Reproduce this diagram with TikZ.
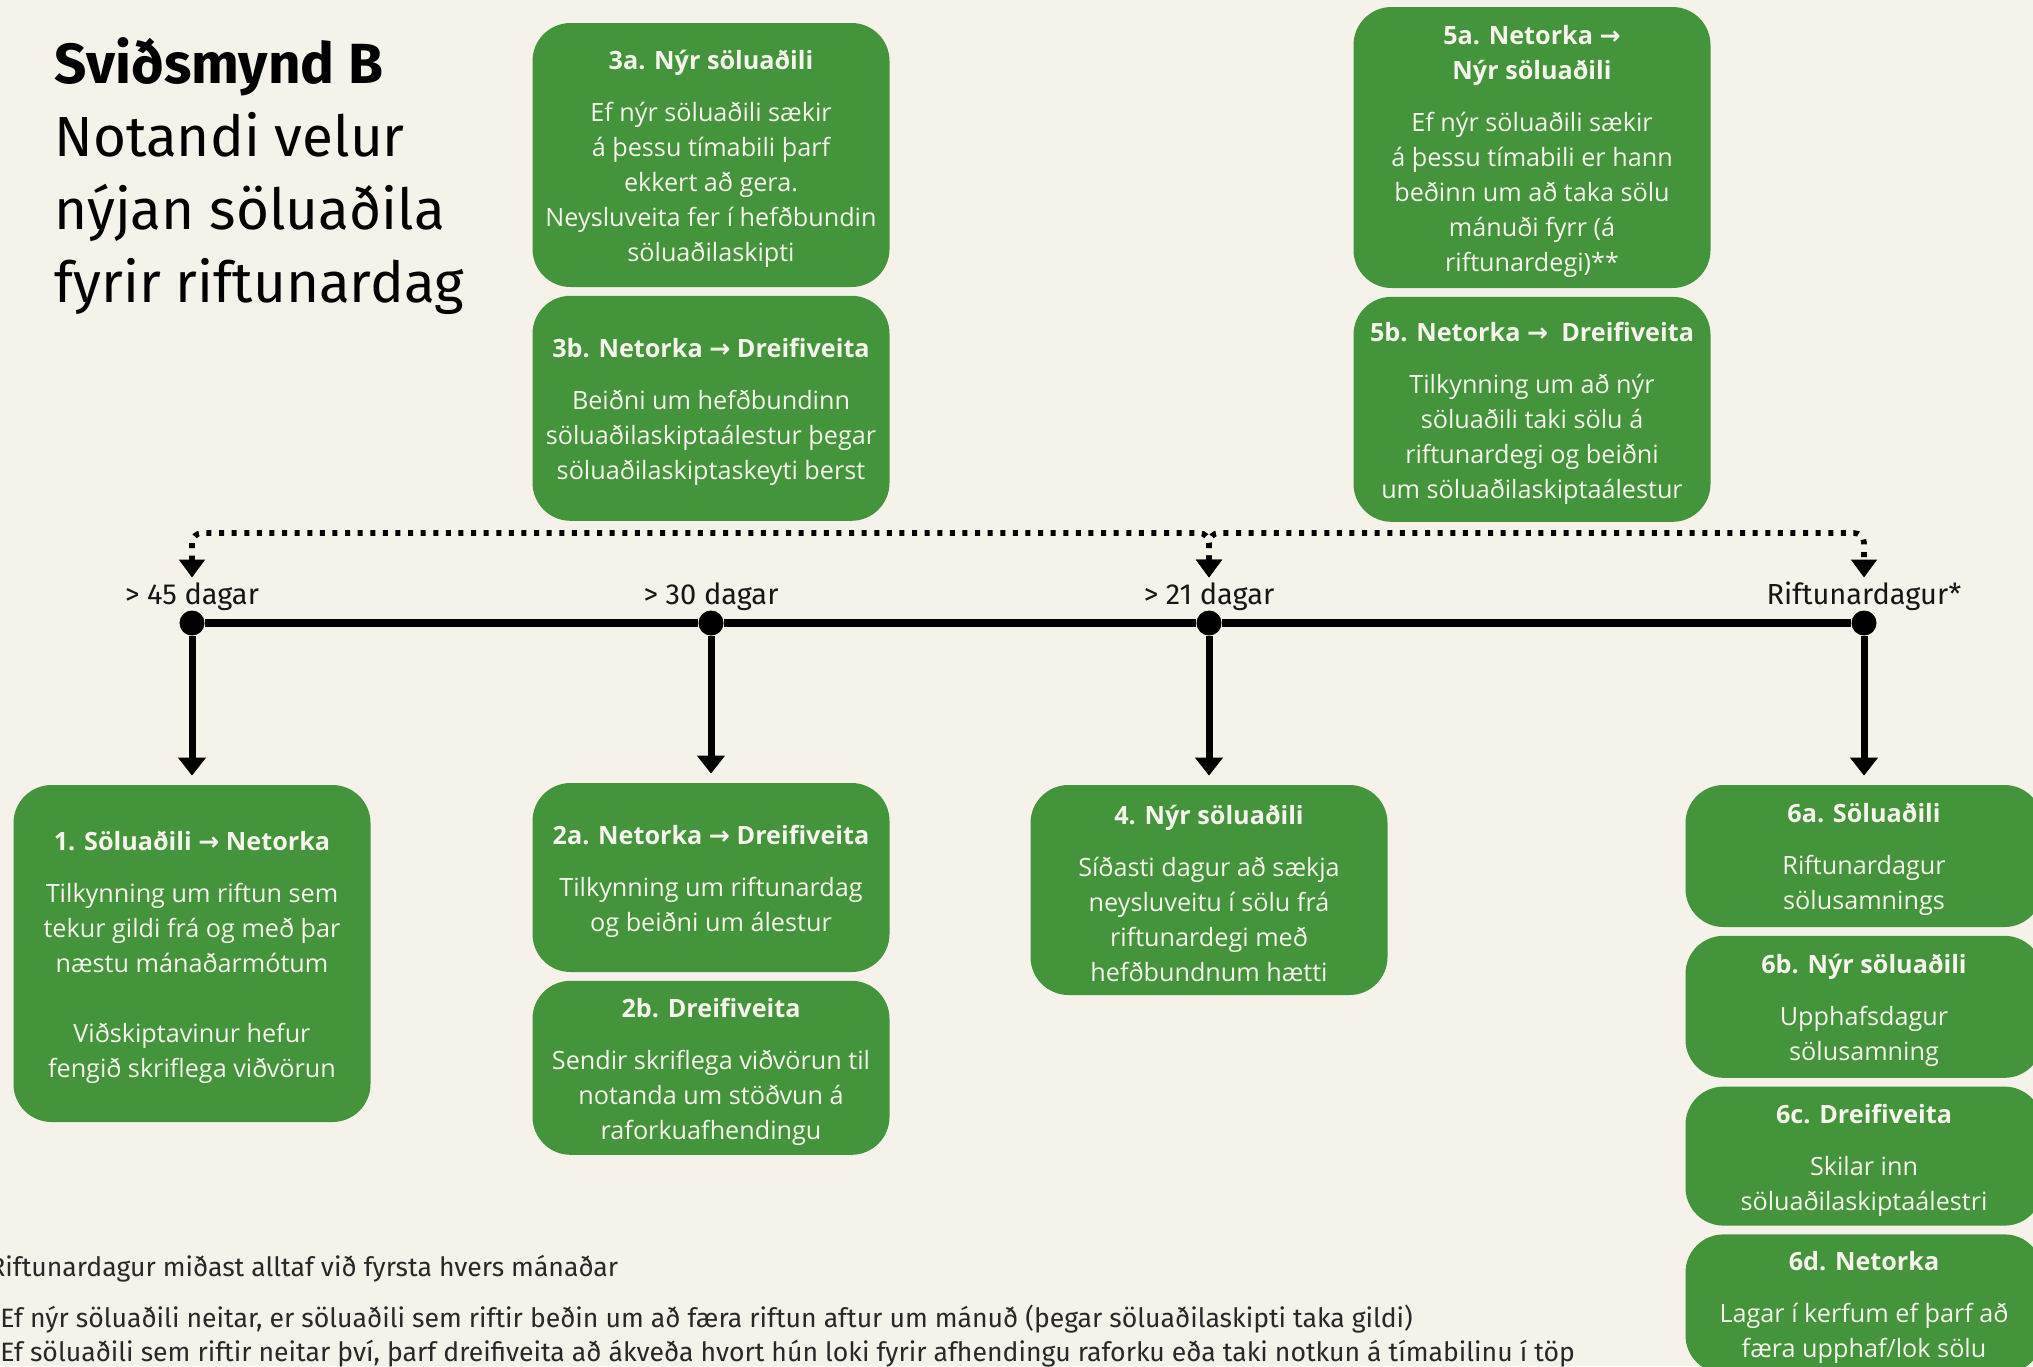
\documentclass[tikz,border=0pt]{standalone}
\usepackage{fontspec}
\setmainfont{Open Sans}
\newfontfamily\firafont{Fira Sans}
\newfontfamily\dejafont{DejaVu Sans}
\usetikzlibrary{positioning}
\usetikzlibrary{arrows.meta}
\definecolor{bgcream}{RGB}{245,242,234}
\definecolor{boxgreen}{RGB}{67,148,59}
\definecolor{boxtext}{RGB}{246,244,236}
\definecolor{inkblack}{RGB}{22,22,22}
\definecolor{notegray}{RGB}{40,40,40}
\newcommand{\toarrow}{{\dejafont →}}
\newcommand{\boxhead}[1]{\rule{0pt}{13.5pt}\textbf{#1}}

\begin{document}
\begin{tikzpicture}[x=0.5pt,y=-0.5pt,node distance=4pt,
  greenbox/.style={fill=boxgreen,text=boxtext,rounded corners=19pt,minimum width=178.5pt,align=center,inner xsep=2pt,font=\fontsize{12.6}{17.5}\selectfont},
  daylbl/.style={inner sep=0pt,text height=10.5pt,text depth=3.5pt,text=inkblack,font=\firafont\fontsize{14.5}{17}\selectfont},
  fnote/.style={inner sep=0pt,text=notegray,font=\firafont\fontsize{13.3}{16}\selectfont},
  tdot/.style={circle,fill=black,inner sep=0pt,minimum size=12.5pt},
  timeline/.style={line width=3.8pt},
  downline/.style={line width=3.5pt,-{Triangle[width=13.5pt,length=9pt]},shorten >=4.5pt},
  dotline/.style={line width=2.8pt,dash pattern=on 2.5pt off 3.8pt,rounded corners=5pt,{Triangle[width=12.5pt,length=9pt]}-{Triangle[width=12.5pt,length=9pt]},shorten <=2.5pt,shorten >=2.5pt}]
\useasboundingbox (0,0) rectangle (2033,1366);
\clip (0,0) rectangle (2033,1366);
\fill[bgcream] (0,0) rectangle (2033,1366);

\node[anchor=north west,inner sep=0pt,align=left,text=black,font=\firafont\fontsize{28.3}{36.5}\selectfont] (head) at (54,37)
  {\textbf{Sviðsmynd B}\\Notandi velur\\nýjan söluaðila\\fyrir riftunardag};

\node[greenbox,minimum height=132pt] (b3a) at (711,155)
  {\boxhead{3a. Nýr söluaðili}\\[8.5pt]Ef nýr söluaðili sækir\\á þessu tímabili þarf\\ekkert að gera.\\Neysluveita fer í hefðbundin\\söluaðilaskipti};
\node[greenbox,minimum height=112.5pt,below=of b3a] (b3b)
  {\boxhead{3b. Netorka \toarrow\ Dreifiveita}\\[8.5pt]Beiðni um hefðbundinn\\söluaðilaskiptaálestur þegar\\söluaðilaskiptaskeyti berst};
\node[greenbox,minimum height=140.5pt] (b5a) at (1532,147.5)
  {\boxhead{5a. Netorka \toarrow}\\\textbf{Nýr söluaðili}\\[8.5pt]Ef nýr söluaðili sækir\\á þessu tímabili er hann\\beðinn um að taka sölu\\mánuði fyrr (á\\riftunardegi)**};
\node[greenbox,minimum height=112.5pt,below=of b5a] (b5b)
  {\boxhead{5b. Netorka \toarrow\ \ Dreifiveita}\\[8.5pt]Tilkynning um að nýr\\söluaðili taki sölu á\\riftunardegi og beiðni\\um söluaðilaskiptaálestur};

\node[greenbox,minimum height=168.5pt] (b1) at (192,953.5)
  {\boxhead{1. Söluaðili \toarrow\ Netorka}\\[8.5pt]Tilkynning um riftun sem\\tekur gildi frá og með þar\\næstu mánaðarmótum\\[17.5pt]Viðskiptavinur hefur\\fengið skriflega viðvörun};
\node[greenbox,minimum height=94.5pt] (b2a) at (711,877.5)
  {\boxhead{2a. Netorka \toarrow\ Dreifiveita}\\[8.5pt]Tilkynning um riftunardag\\og beiðni um álestur};
\node[greenbox,minimum height=87pt,below=of b2a] (b2b)
  {\boxhead{2b. Dreifiveita}\\[8.5pt]Sendir skriflega viðvörun til\\notanda um stöðvun á\\raforkuafhendingu};
\node[greenbox,minimum height=105pt] (b4) at (1209,890)
  {\boxhead{4. Nýr söluaðili}\\[8.5pt]Síðasti dagur að sækja\\neysluveitu í sölu frá\\riftunardegi með\\hefðbundnum hætti};
\node[greenbox,minimum height=71pt] (b6a) at (1864,856)
  {\boxhead{6a. Söluaðili}\\[8.5pt]Riftunardagur\\sölusamnings};
\node[greenbox,minimum height=71pt,below=of b6a] (b6b)
  {\boxhead{6b. Nýr söluaðili}\\[8.5pt]Upphafsdagur\\sölusamning};
\node[greenbox,minimum height=69.5pt,below=of b6b] (b6c)
  {\boxhead{6c. Dreifiveita}\\[8.5pt]Skilar inn\\söluaðilaskiptaálestri};
\node[greenbox,minimum height=69.5pt,below=of b6c] (b6d)
  {\boxhead{6d. Netorka}\\[8.5pt]Lagar í kerfum ef þarf að\\færa upphaf/lok sölu};

\node[tdot] (p45) at (192,623) {};
\node[tdot] (p30) at (711,623) {};
\node[tdot] (p21) at (1209,623) {};
\node[tdot] (pR) at (1864,623) {};
\node[daylbl,anchor=base] (l45) at (192,604) {> 45 dagar};
\node[daylbl,anchor=base] (l30) at (711,604) {> 30 dagar};
\node[daylbl,anchor=base] (l21) at (1209,604) {> 21 dagar};
\node[daylbl,anchor=base] (lR) at (1864,604) {Riftunardagur*};

\draw[timeline] (p45)--(p30)--(p21)--(pR);
\draw[downline] (p45)--(b1);
\draw[downline] (p30)--(b2a);
\draw[downline] (p21)--(b4);
\draw[downline] (pR)--(b6a);

\coordinate (dotrow) at (0,533);
\draw[dotline] (l45.north)--(l45.north |- dotrow)-|(l21.north);
\draw[dotline] (l21.north)--(l21.north |- dotrow)-|(lR.north);

\node[fnote,anchor=base west] (fnA) at (5,1276) {\llap{*R}iftunardagur miðast alltaf við fyrsta hvers mánaðar};
\node[fnote,anchor=base west] (fnB) at (0,1327) {Ef nýr söluaðili neitar, er söluaðili sem riftir beðin um að færa riftun aftur um mánuð (þegar söluaðilaskipti taka gildi)};
\node[fnote,anchor=base west] (fnC) at (0,1361) {Ef söluaðili sem riftir neitar því, þarf dreifiveita að ákveða hvort hún loki fyrir afhendingu raforku eða taki notkun á tímabilinu í töp};
\end{tikzpicture}
\end{document}
